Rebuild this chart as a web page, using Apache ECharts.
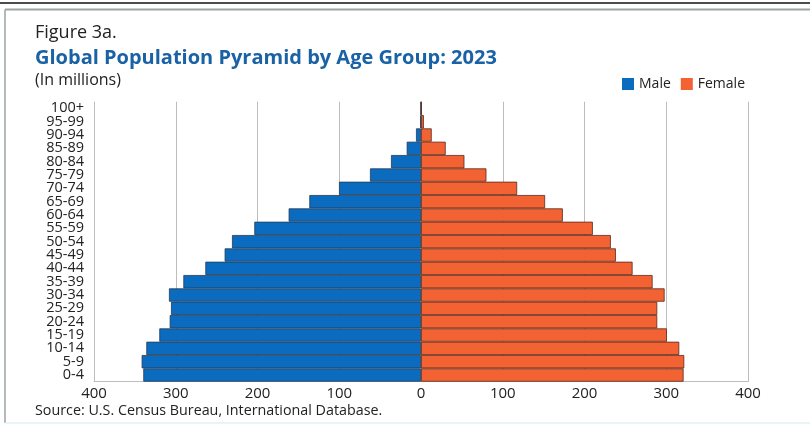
<!DOCTYPE html>
<html>
<head>
<meta charset="utf-8">
<script src="https://cdn.jsdelivr.net/npm/echarts@6/dist/echarts.min.js"></script>
<style>
  html, body { margin: 0; padding: 0; background: #fff; }
  #chart { width: 810px; height: 428px; }
</style>
</head>
<body>
<div id="chart"></div>
<script>
// age groups, bottom to top
const ageGroups = ["0-4", "5-9", "10-14", "15-19", "20-24", "25-29", "30-34", "35-39",
  "40-44", "45-49", "50-54", "55-59", "60-64", "65-69", "70-74", "75-79",
  "80-84", "85-89", "90-94", "95-99", "100+"];
// millions
const maleValues = [339.7, 341.7, 336, 320.1, 307.4, 305.8, 308.3, 290.7, 263.8, 240.2,
  231.2, 203.9, 161.9, 136.6, 100.3, 62.4, 36.7, 17.5, 6.1, 1.0, 0.2];
const femaleValues = [321.2, 322, 315.9, 300.8, 289, 289, 298, 283.3, 258.8, 238.4,
  232.2, 210.2, 173.5, 151.8, 117.6, 80, 53.1, 30.2, 13.1, 3.5, 0.6];

const font = "Open Sans";
let chart = echarts.init(document.getElementById("chart"));

let option = {
  animation: false,
  textStyle: { fontFamily: font },
  title: [
    {
      text: "Figure 3a.",
      left: 30, top: 19,
      textStyle: { fontSize: 18, fontWeight: "normal", color: "#222", fontFamily: font }
    },
    {
      text: "Global Population Pyramid by Age Group: 2023",
      left: 30, top: 43,
      textStyle: { fontSize: 20, fontWeight: "bold", color: "#1a62a6", fontFamily: font }
    },
    {
      text: "(In millions)",
      left: 30, top: 67,
      textStyle: { fontSize: 16, fontWeight: "normal", color: "#222", fontFamily: font }
    },
    {
      text: "Source: U.S. Census Bureau, International Database.",
      left: 30, top: 399,
      textStyle: { fontSize: 14.3, fontWeight: "normal", color: "#222", fontFamily: font }
    }
  ],
  legend: {
    data: ["Male", "Female"],
    right: 60, top: 72,
    icon: "rect",
    itemWidth: 12, itemHeight: 12,
    itemGap: 10,
    itemStyle: { borderWidth: 0 },
    textStyle: { fontSize: 14, color: "#222", fontFamily: font }
  },
  graphic: [
    { type: "line", shape: { x1: 0, y1: 3, x2: 810, y2: 3 }, style: { stroke: "#111", lineWidth: 1.5 } },
    { type: "line", shape: { x1: 5, y1: 9.5, x2: 810, y2: 9.5 }, style: { stroke: "#9aa5a3", lineWidth: 2 } },
    { type: "line", shape: { x1: 5, y1: 9.5, x2: 5, y2: 423 }, style: { stroke: "#9aa5a3", lineWidth: 1.5 } },
    { type: "line", shape: { x1: 5, y1: 423, x2: 810, y2: 423 }, style: { stroke: "#e3f1f3", lineWidth: 1.5 } }
  ],
  grid: { left: 94, right: 62, top: 101.7, bottom: 46.3 },
  xAxis: {
    type: "value",
    min: -400, max: 400, interval: 100,
    axisLine: { show: true, onZero: false, lineStyle: { color: "#bdbdbd" } },
    axisTick: { show: false },
    axisLabel: {
      fontSize: 15, color: "#222", margin: 5, fontFamily: font,
      formatter: v => Math.abs(v)
    },
    splitLine: { lineStyle: { color: "#bdbdbd", width: 1 } }
  },
  yAxis: {
    type: "category",
    data: ageGroups,
    axisLine: { show: true, lineStyle: { color: "#bdbdbd" } },
    axisTick: { show: false },
    axisLabel: { interval: 0, fontSize: 14.5, lineHeight: 13, color: "#222", margin: 10, fontFamily: font }
  },
  series: [
    {
      name: "Male",
      type: "bar",
      data: maleValues.map(v => -v),
      barGap: "-100%",
      barCategoryGap: "0%",
      itemStyle: { color: "#0a6bbf", borderColor: "#263c55", borderWidth: 0.8 }
    },
    {
      name: "Female",
      type: "bar",
      data: femaleValues,
      barGap: "-100%",
      barCategoryGap: "0%",
      itemStyle: { color: "#f26232", borderColor: "#5a2a1c", borderWidth: 0.8 }
    }
  ]
};

chart.setOption(option);
</script>
</body>
</html>
